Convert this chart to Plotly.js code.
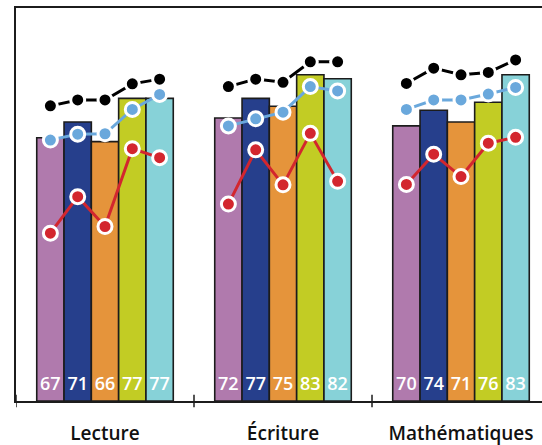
<!DOCTYPE html>
<html>
<head>
<meta charset="utf-8">
<script src="https://cdn.plot.ly/plotly-3.0.1.min.js"></script>
<style>
html,body{margin:0;padding:0;overflow:hidden;background:#fff;}
#chart{width:542px;height:445px;}
</style>
</head>
<body>
<div id="chart"></div>
<script>
// ---- data ----
const categories = ["Lecture", "Écriture", "Mathématiques"];
// five bar series (one colour each), values per category
const bar1 = [67, 72, 70];
const bar2 = [71, 77, 74];
const bar3 = [66, 75, 71];
const bar4 = [77, 83, 76];
const bar5 = [77, 82, 83];
// line series: for each category, five points (one per bar)
const blackLecture = [75.1, 76.6, 76.6, 80.7, 81.9];
const blackEcriture = [80.0, 81.9, 81.1, 86.3, 86.3];
const blackMaths = [80.8, 84.7, 83.0, 83.6, 86.8];
const blueLecture = [66.4, 67.9, 68.0, 74.2, 78.0];
const blueEcriture = [70.0, 71.8, 73.5, 80.0, 78.9];
const blueMaths = [74.2, 76.6, 76.6, 78.1, 79.8];
const redLecture = [42.7, 52.0, 44.4, 64.2, 61.9];
const redEcriture = [50.1, 63.9, 55.0, 68.1, 55.9];
const redMaths = [55.1, 62.8, 57.1, 65.6, 67.1];

// ---- styling ----
const barSeries = [bar1, bar2, bar3, bar4, bar5];
const barColors = ["#b07aad", "#263f8c", "#e5943b", "#c2cc24", "#87d2d8"];
const bargap = 0.233;
const nBars = barSeries.length;
const w = (1 - bargap) / nBars;
const catIdx = categories.map((c, i) => i);
const offsetOf = k => (k - (nBars - 1) / 2) * w;

const traces = [];
barSeries.forEach((vals, k) => {
  traces.push({
    type: "bar", x: catIdx, y: vals,
    marker: {color: barColors[k], line: {color: "#1c1c1c", width: 1.6}},
    hoverinfo: "skip", showlegend: false
  });
});

// value labels near bar bottoms
const labelY = 4.0;
const lx = [], ly = [], lt = [];
barSeries.forEach((vals, k) => {
  vals.forEach((v, i) => { lx.push(i + offsetOf(k)); ly.push(labelY); lt.push(String(v)); });
});
traces.push({
  type: "scatter", mode: "text", x: lx, y: ly, text: lt,
  textposition: "middle center",
  textfont: {family: "Open Sans, sans-serif", size: 18, color: "#ffffff", weight: 600},
  hoverinfo: "skip", showlegend: false, cliponaxis: false
});

function lineTrace(groups, color) {
  const x = [], y = [];
  groups.forEach((g, i) => {
    g.forEach((v, k) => { x.push(i + offsetOf(k)); y.push(v); });
    if (i < groups.length - 1) { x.push(null); y.push(null); }
  });
  return {
    type: "scatter", mode: "lines+markers", x: x, y: y,
    connectgaps: false,
    line: {color: color, width: 3},
    marker: {color: color, size: 14, line: {color: "#ffffff", width: 3}},
    hoverinfo: "skip", showlegend: false, cliponaxis: false
  };
}
traces.push(lineTrace([redLecture, redEcriture, redMaths], "#d3262e"));
traces.push(lineTrace([blueLecture, blueEcriture, blueMaths], "#6aa8dc"));
traces.push(lineTrace([blackLecture, blackEcriture, blackMaths], "#000000"));

// boundary tick marks crossing the axis
const shapes = [];
for (let i = 0; i < categories.length; i++) {
  shapes.push({type: "line", xref: "x", yref: "paper", x0: i - 0.5, x1: i - 0.5,
    y0: -0.016, y1: 0.016, line: {color: "#1c1c1c", width: 1.5}});
}

const layout = {
  width: 542, height: 445,
  margin: {l: 16, r: 0, t: 8, b: 44, pad: 0},
  paper_bgcolor: "#ffffff", plot_bgcolor: "#ffffff",
  barmode: "group", bargap: bargap, bargroupgap: 0,
  showlegend: false,
  xaxis: {
    range: [-0.5, 2.455], tickvals: catIdx, ticktext: categories,
    ticks: "", showgrid: false, zeroline: false,
    showline: true, mirror: true, linecolor: "#1c1c1c", linewidth: 1.6,
    tickfont: {family: "Open Sans, sans-serif", size: 19, color: "#111111", weight: 600},
    ticklabelstandoff: 15
  },
  yaxis: {
    range: [0, 100], showticklabels: false, ticks: "", showgrid: false, zeroline: false,
    showline: true, linecolor: "#1c1c1c", linewidth: 1.6
  },
  shapes: shapes
};

Plotly.newPlot("chart", traces, layout, {displayModeBar: false, staticPlot: true});
</script>
</body>
</html>
